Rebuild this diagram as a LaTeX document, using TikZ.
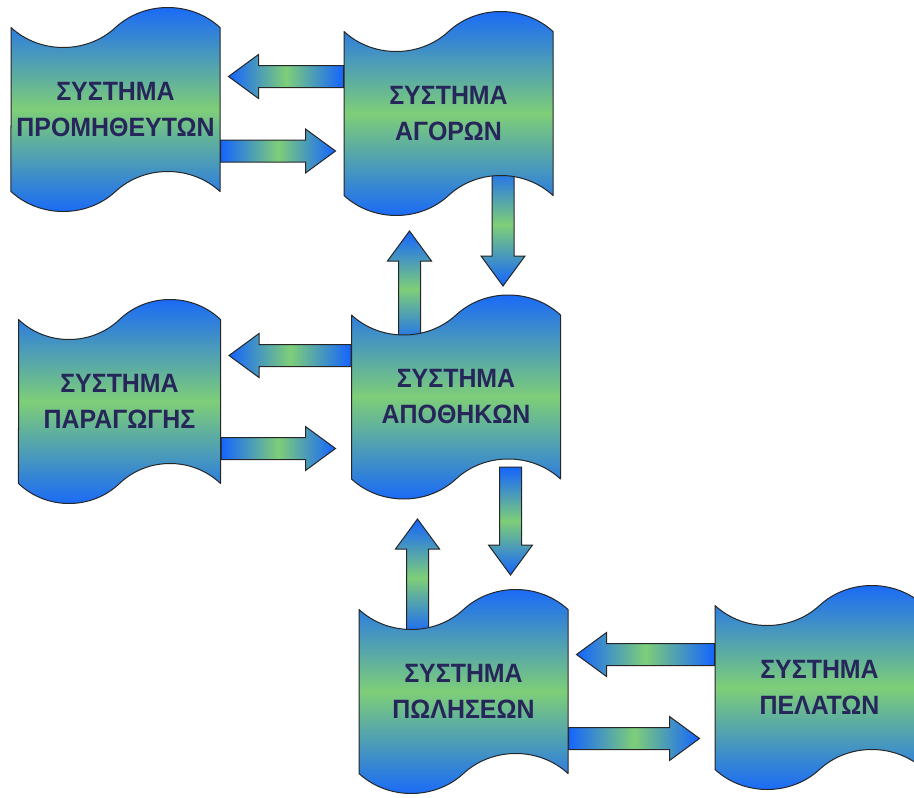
\documentclass[tikz,border=0pt]{standalone}
\usepackage{fontspec}
\setmainfont{Liberation Sans}
\newfontfamily\sysfont{Liberation Sans}[FakeStretch=0.94]
\usepackage{tikz}
\usetikzlibrary{shapes.symbols}
\usetikzlibrary{calc}
\usetikzlibrary{backgrounds}

\definecolor{sysblue}{RGB}{20,100,255}
\definecolor{sysgreen}{RGB}{126,206,120}
\definecolor{systext}{RGB}{38,38,90}

\begin{document}
\begin{tikzpicture}[line join=round, x=1pt, y=-1pt,
    sys/.style={tape, tape bend top=in and out, tape bend bottom=in and out,
        tape bend height=40pt, draw=black!85, line width=1pt,
        top color=sysblue, bottom color=sysblue, middle color=sysgreen,
        minimum width=209pt, minimum height=204pt, inner sep=0pt,
        align=center, text=systext, font=\sysfont\fontsize{26.5}{36}\selectfont\bfseries},
    blk/.style={draw=black!85, line width=1pt, to path={
        let \p1=(\tikztostart), \p2=(\tikztotarget), \p3=($(\p2)!30pt!(\p1)$) in
        ($(\p1)!11pt!90:(\p2)$) -- ($(\p3)!11pt!-90:(\p1)$) -- ($(\p3)!22pt!-90:(\p1)$)
        -- (\p2) -- ($(\p3)!22pt!90:(\p1)$) -- ($(\p3)!11pt!90:(\p1)$)
        -- ($(\p1)!11pt!-90:(\p2)$) -- cycle}},
    harr/.style={blk, left color=sysblue, right color=sysblue, middle color=sysgreen},
    varr/.style={blk, top color=sysblue, bottom color=sysblue, middle color=sysgreen}]
    \useasboundingbox (0,0) rectangle (914,798);
    \clip (0,0) rectangle (914,798);

    \node[sys] (1) at (115.5,109.5) {ΣΥΣΤΗΜΑ\\ΠΡΟΜΗΘΕΥΤΩΝ};
    \node[sys] (2) at (448.5,113.5) {ΣΥΣΤΗΜΑ\\ΑΓΟΡΩΝ};
    \node[sys, minimum width=202pt] (3) at (119.5,401.5) {ΣΥΣΤΗΜΑ\\ΠΑΡΑΓΩΓΗΣ};
    \node[sys] (4) at (456,397) {ΣΥΣΤΗΜΑ\\ΑΠΟΘΗΚΩΝ};
    \node[sys] (5) at (463.5,691.5) {ΣΥΣΤΗΜΑ\\ΠΩΛΗΣΕΩΝ};
    \node[sys] (6) at (819.5,687.5) {ΣΥΣΤΗΜΑ\\ΠΕΛΑΤΩΝ};

    \begin{scope}[on background layer]
        % top row
        \draw[harr] ($(2.west)+(0,-37)$) to ($(1.east)+(8,-33)$);
        \draw[harr] ($(1.east)+(0,41.5)$) to ($(2.west)+(-8,37.5)$);
        \draw[varr] ($(2.center)+(54.5,50)$) to ($(4.center)+(47,-111)$);
        \draw[varr] ($(4.center)+(-46.5,-50)$) to ($(2.center)+(-39,117.5)$);
        % middle row
        \draw[harr] ($(4.west)+(0,-41.5)$) to ($(3.east)+(8,-46)$);
        \draw[harr] ($(3.east)+(0,47)$) to ($(4.west)+(-15.5,51.5)$);
        \draw[varr] ($(4.center)+(54.5,70)$) to ($(5.center)+(47,-116.5)$);
        \draw[varr] ($(5.center)+(-46,-55)$) to ($(4.center)+(-38.5,122)$);
        % bottom row
        \draw[harr] ($(6.west)+(0,-33)$) to ($(5.east)+(8,-37)$);
        \draw[harr] ($(5.east)+(0,47)$) to ($(6.west)+(-15,51)$);
    \end{scope}
\end{tikzpicture}
\end{document}
